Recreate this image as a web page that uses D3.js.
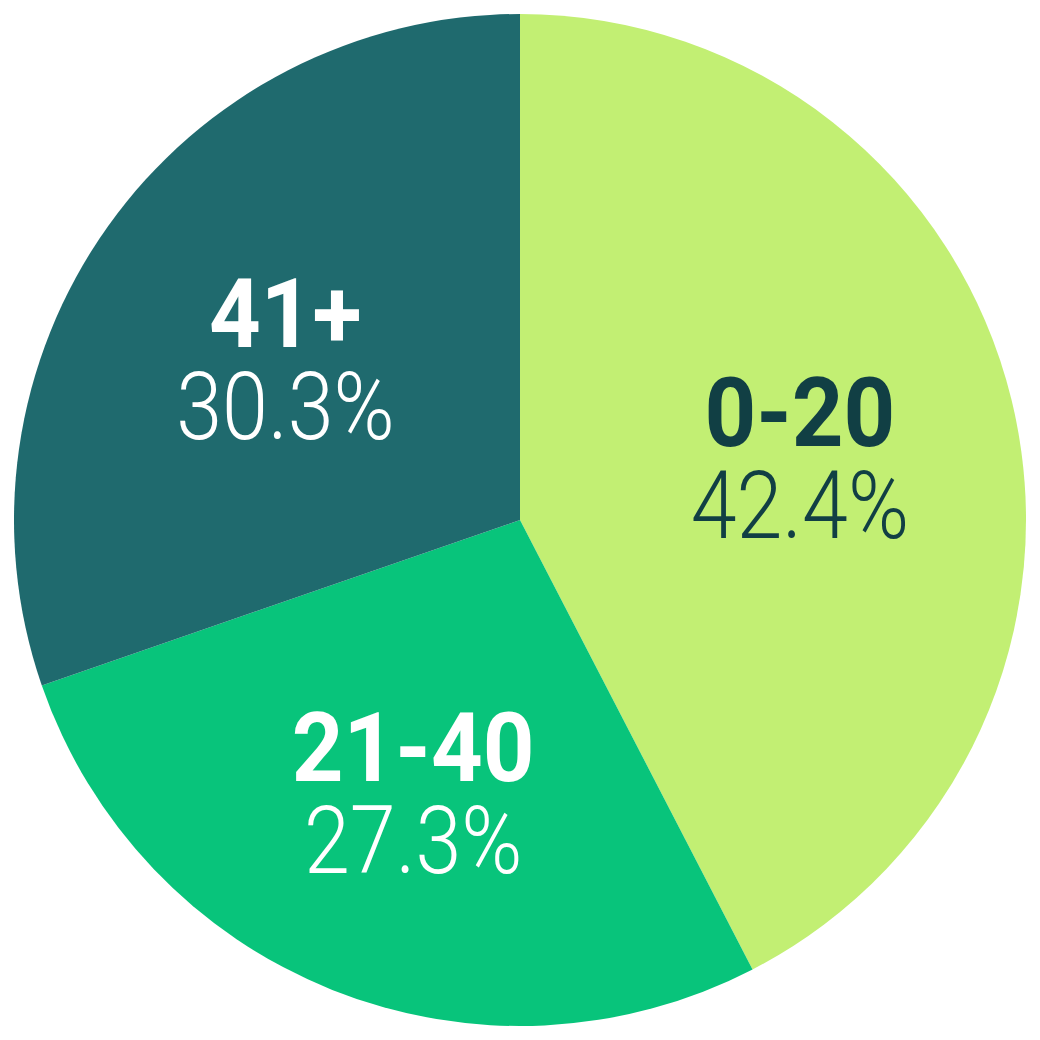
<!DOCTYPE html>
<html>
<head>
<meta charset="utf-8">
<script src="https://cdn.jsdelivr.net/npm/d3@7"></script>
<style>
  html, body { margin: 0; padding: 0; background: #fff; }
  svg { display: block; }
</style>
</head>
<body>
<svg width="1040" height="1040"></svg>
<script>
// age groups and their share
var categories = ["0-20", "21-40", "41+"];
var shares = [42.4, 27.3, 30.3];
var colors = ["#C2EF73", "#08C47B", "#1F6A6E"];
var textColors = ["#113F44", "#FFFFFF", "#FFFFFF"];

var svg = d3.select("svg");
var cx = 520, cy = 520, radius = 506;

var pie = d3.pie().sort(null).value(function (d) { return d; });
var arcs = pie(shares);

var arc = d3.arc().innerRadius(0).outerRadius(radius);
var labelArc = d3.arc().innerRadius(288).outerRadius(288);

var g = svg.append("g").attr("transform", "translate(" + cx + "," + cy + ")");

g.selectAll("path")
    .data(arcs)
    .enter().append("path")
    .attr("d", arc)
    .attr("fill", function (d, i) { return colors[i]; });

var labels = g.selectAll("g.label")
    .data(arcs)
    .enter().append("g")
    .attr("class", "label")
    .attr("transform", function (d) {
        var c = labelArc.centroid(d);
        return "translate(" + c[0] + "," + (c[1] + 4) + ")";
    });

// text is a bit condensed in the original
labels.append("text")
    .attr("text-anchor", "middle")
    .attr("transform", "translate(0,-10) scale(0.94,1)")
    .attr("font-family", "Roboto")
    .attr("font-weight", 700)
    .attr("font-size", 96)
    .attr("fill", function (d, i) { return textColors[i]; })
    .text(function (d, i) { return categories[i]; });

labels.append("text")
    .attr("text-anchor", "middle")
    .attr("transform", "translate(0,82) scale(0.87,1)")
    .attr("font-family", "Roboto")
    .attr("font-weight", 300)
    .attr("font-size", 95)
    .attr("fill", function (d, i) { return textColors[i]; })
    .text(function (d) { return d.data.toFixed(1) + "%"; });
</script>
</body>
</html>
